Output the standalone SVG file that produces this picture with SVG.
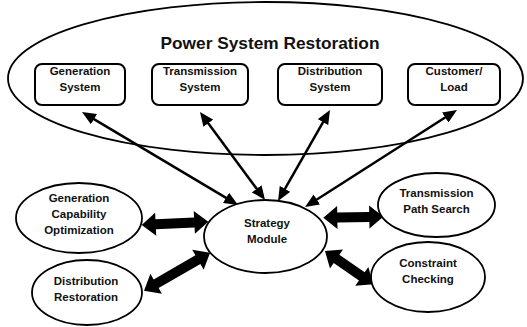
<svg xmlns="http://www.w3.org/2000/svg" width="527" height="327" viewBox="0 0 527 327">
<style>
text{font-family:"Liberation Sans",Arial,sans-serif;font-weight:bold;font-size:11.5px;fill:#111;text-anchor:middle}
.title{font-size:17.3px}
.box{fill:#fff;stroke:#000;stroke-width:2}
.ell{fill:#fff;stroke:#000;stroke-width:1.8}
.big{fill:none;stroke:#000;stroke-width:1.8}
.thin{stroke:#000;stroke-width:2.5;fill:none;marker-start:url(#ah);marker-end:url(#ah)}
.thick{fill:#000}
</style>
<defs>
<marker id="ah" viewBox="0 0 14 12" markerWidth="14" markerHeight="12" refX="5" refY="6" orient="auto-start-reverse" markerUnits="userSpaceOnUse">
<path d="M0,0 L14,6 L0,12 z" fill="#000"/>
</marker>
</defs>
<g id="restoration">
<ellipse class="big" cx="265.5" cy="78.5" rx="257.5" ry="76.5"/>
<text class="title" x="270" y="49">Power System Restoration</text>
</g>
<g id="generation-system">
<rect class="box" x="35" y="64" width="90" height="41" rx="7"/>
<text x="80" y="74.5">Generation</text><text x="80" y="90.5">System</text>
</g>
<g id="transmission-system">
<rect class="box" x="152" y="64" width="96" height="41" rx="7"/>
<text x="200" y="74.5">Transmission</text><text x="200" y="90.5">System</text>
</g>
<g id="distribution-system">
<rect class="box" x="278" y="64" width="104" height="41" rx="7"/>
<text x="330" y="74.5">Distribution</text><text x="330" y="90.5">System</text>
</g>
<g id="customer-load">
<rect class="box" x="408" y="64" width="92" height="41" rx="7"/>
<text x="454" y="74.5">Customer/</text><text x="454" y="90.5">Load</text>
</g>
<g id="connectors">
<line class="thin" x1="89.7" y1="116.6" x2="230.3" y2="200.4"/>
<line class="thin" x1="205.3" y1="119.2" x2="259.7" y2="192.8"/>
<line class="thin" x1="325.5" y1="117.8" x2="282.5" y2="193.2"/>
<line class="thin" x1="449.4" y1="114.8" x2="312.6" y2="202.2"/>
<polygon class="thick" transform="translate(141.7,225) rotate(-2.84)" points="0,0 14,-11.5 14,-5 52.7,-5 52.7,-11.5 66.7,0 52.7,11.5 52.7,5 14,5 14,11.5"/>
<polygon class="thick" transform="translate(144,290.7) rotate(-29.9)" points="0,0 14,-11.5 14,-5 62.2,-5 62.2,-11.5 76.2,0 62.2,11.5 62.2,5 14,5 14,11.5"/>
<polygon class="thick" transform="translate(323.3,217.7) rotate(-0.95)" points="0,0 14,-11.5 14,-5 46,-5 46,-11.5 60,0 46,11.5 46,5 14,5 14,11.5"/>
<polygon class="thick" transform="translate(325,251) rotate(34.6)" points="0,0 14,-11.5 14,-5 44.7,-5 44.7,-11.5 58.7,0 44.7,11.5 44.7,5 14,5 14,11.5"/>
</g>
<g id="strategy-module">
<ellipse class="ell" cx="265.5" cy="236.5" rx="61.5" ry="36.5"/>
<text x="267" y="226.5">Strategy</text><text x="267" y="243">Module</text>
</g>
<g id="generation-capability-optimization">
<ellipse class="ell" cx="79" cy="218" rx="63" ry="35"/>
<text x="79" y="201.5">Generation</text><text x="79" y="217.5">Capability</text><text x="79" y="233.5">Optimization</text>
</g>
<g id="distribution-restoration">
<ellipse class="ell" cx="87" cy="292.5" rx="55" ry="32.5"/>
<text x="86" y="285">Distribution</text><text x="86" y="301">Restoration</text>
</g>
<g id="transmission-path-search">
<ellipse class="ell" cx="436.5" cy="205" rx="58.5" ry="32"/>
<text x="436.5" y="196.5">Transmission</text><text x="436.5" y="213">Path Search</text>
</g>
<g id="constraint-checking">
<ellipse class="ell" cx="428" cy="277" rx="57" ry="35"/>
<text x="428" y="266.5">Constraint</text><text x="428" y="282.5">Checking</text>
</g>
</svg>
